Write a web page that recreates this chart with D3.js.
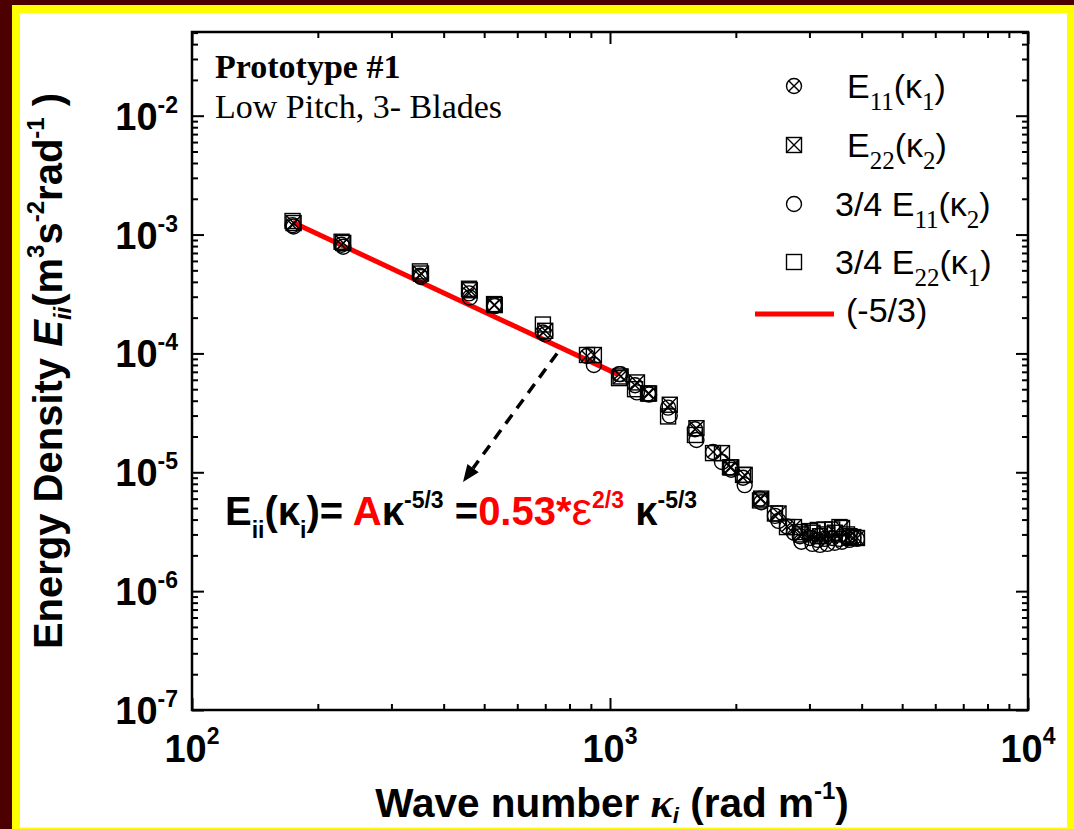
<!DOCTYPE html>
<html><head><meta charset="utf-8">
<script src="https://cdn.jsdelivr.net/npm/d3@7"></script>
<style>
html,body{margin:0;padding:0;background:#4d0000;}
svg{display:block;}
</style></head><body>
<svg id="chart" width="1074" height="829"></svg>
<script>
// ---------------- data ----------------
const k1 = [174, 228, 351, 460, 528, 691, 881, 1051, 1148, 1233, 1377, 1597, 1764, 1937, 2081, 2285, 2481, 2651, 2848, 3010, 3140, 3260, 3400, 3540, 3690, 3820];
const k2 = [175, 230, 353, 462, 530, 700, 915, 1060, 1160, 1240, 1390, 1610, 1853, 1950, 2100, 2300, 2530, 2755, 2870, 3050, 3180, 3310, 3450, 3590, 3740, 3898];
const E11k1 = [1.2e-3, 8.2e-4, 4.5e-4, 3.2e-4, 2.55e-4, 1.5e-4, 9.5e-5, 6.7e-5, 5.4e-5, 4.6e-5, 3.5e-5, 2.3e-5, 1.48e-5, 1.1e-5, 9.0e-6, 6.0e-6, 4.3e-6, 3.5e-6, 2.9e-6, 2.8e-6, 2.7e-6, 2.75e-6, 2.8e-6, 2.75e-6, 2.8e-6, 2.8e-6];
const E22k2 = [1.25e-3, 8.5e-4, 4.7e-4, 3.4e-4, 2.55e-4, 1.55e-4, 9.7e-5, 6.4e-5, 5.7e-5, 4.6e-5, 3.7e-5, 2.35e-5, 1.45e-5, 1.1e-5, 9.5e-6, 6.0e-6, 4.5e-6, 3.46e-6, 3.0e-6, 3.1e-6, 2.9e-6, 3.0e-6, 3.1e-6, 3.4e-6, 2.9e-6, 2.8e-6];
const E11k2q = [1.17e-3, 7.9e-4, 4.4e-4, 2.95e-4, 2.5e-4, 1.45e-4, 8.0e-5, 6.7e-5, 4.7e-5, 4.5e-5, 3.0e-5, 1.87e-5, 1.22e-5, 1.05e-5, 7.8e-6, 5.6e-6, 3.9e-6, 3.1e-6, 2.6e-6, 2.5e-6, 2.45e-6, 2.5e-6, 2.55e-6, 2.6e-6, 2.7e-6, 2.75e-6];
const E22k1q = [1.3e-3, 8.7e-4, 4.9e-4, 3.5e-4, 2.6e-4, 1.75e-4, 9.7e-5, 6.2e-5, 5.0e-5, 4.6e-5, 2.95e-5, 2.06e-5, 1.45e-5, 1.1e-5, 9.5e-6, 5.8e-6, 4.5e-6, 3.46e-6, 3.14e-6, 3.2e-6, 3.27e-6, 3.3e-6, 3.3e-6, 3.46e-6, 3.0e-6, 2.85e-6];
const fitK = [174, 1051];
const fitE = [1.27e-3, 6.6e-5];
const xTickValues = [1e2, 1e3, 1e4];
const xTickExps = ["2", "3", "4"];
const yTickValues = [1e-7, 1e-6, 1e-5, 1e-4, 1e-3, 1e-2];
const yTickExps = ["-7", "-6", "-5", "-4", "-3", "-2"];
const arrowFrom = [747, 1.0e-4];
const arrowTo = [445, 8.3e-6];

// ---------------- setup ----------------
const W = 1074, H = 829;
const svg = d3.select("#chart");
svg.append("rect").attr("x", 0).attr("y", 0).attr("width", W).attr("height", H).attr("fill", "#4d0000");
svg.append("rect").attr("x", 12).attr("y", 5).attr("width", W - 12).attr("height", H - 5).attr("fill", "#ffff00");
svg.append("rect").attr("x", 20).attr("y", 13).attr("width", 1047).attr("height", 814.5).attr("fill", "#ffffff");

const M = {l: 192, t: 32, r: 1028, b: 710};
const x = d3.scaleLog().domain([1e2, 1e4]).range([M.l, M.r]);
const y = d3.scaleLog().domain([1e-7, 0.0506]).range([M.b, M.t]);

const SANS = "'Liberation Sans', Arial, sans-serif";
const SERIF = "'Liberation Serif', 'Times New Roman', serif";

// minor tick positions
const xMinor = [];
[1e2, 1e3].forEach(d => { for (let m = 2; m <= 9; m++) xMinor.push(d * m); });
const yMinor = [];
[1e-7, 1e-6, 1e-5, 1e-4, 1e-3, 1e-2].forEach(d => { for (let m = 2; m <= 9; m++) if (d * m <= y.domain()[1]) yMinor.push(d * m); });

function axisG(axis, tx, ty) {
  const g = svg.append("g").attr("transform", `translate(${tx},${ty})`).call(axis);
  g.select(".domain").remove();
  g.selectAll(".tick line").attr("stroke", "#000").attr("stroke-width", 2);
  g.selectAll(".tick text").remove();
  return g;
}
axisG(d3.axisBottom(x).tickValues(xTickValues).tickSize(-12).tickFormat(""), 0, M.b);
axisG(d3.axisBottom(x).tickValues(xMinor).tickSize(-6).tickFormat(""), 0, M.b);
axisG(d3.axisTop(x).tickValues(xTickValues).tickSize(-12).tickFormat(""), 0, M.t);
axisG(d3.axisTop(x).tickValues(xMinor).tickSize(-6).tickFormat(""), 0, M.t);
axisG(d3.axisLeft(y).tickValues(yTickValues).tickSize(-12).tickFormat(""), M.l, 0);
axisG(d3.axisLeft(y).tickValues(yMinor).tickSize(-6).tickFormat(""), M.l, 0);
axisG(d3.axisRight(y).tickValues(yTickValues).tickSize(-12).tickFormat(""), M.r, 0);
axisG(d3.axisRight(y).tickValues(yMinor).tickSize(-6).tickFormat(""), M.r, 0);

svg.append("rect").attr("x", M.l).attr("y", M.t).attr("width", M.r - M.l).attr("height", M.b - M.t)
  .attr("fill", "none").attr("stroke", "#000").attr("stroke-width", 2.5);

// tick labels
xTickValues.forEach((v, i) => {
  const t = svg.append("text").attr("x", x(v)).attr("y", M.b + 52).attr("text-anchor", "middle")
    .attr("font-family", SANS).attr("font-weight", "bold").attr("font-size", 38);
  t.append("tspan").text("10");
  t.append("tspan").attr("font-size", 23).attr("dy", -18).text(xTickExps[i]);
});
yTickValues.forEach((v, i) => {
  const t = svg.append("text").attr("x", 178).attr("y", y(v) + 14).attr("text-anchor", "end")
    .attr("font-family", SANS).attr("font-weight", "bold").attr("font-size", 38);
  t.append("tspan").text("10");
  t.append("tspan").attr("font-size", 23).attr("dy", -17).text(yTickExps[i]);
});

// axis titles
const xt = svg.append("text").attr("x", (M.l + M.r) / 2 + 2).attr("y", 817).attr("text-anchor", "middle")
  .attr("font-family", SANS).attr("font-weight", "bold").attr("font-size", 40.5);
xt.append("tspan").text("Wave number ");
xt.append("tspan").attr("font-family", SERIF).attr("font-style", "italic").attr("font-size", 42).text("\u03BA");
xt.append("tspan").attr("font-style", "italic").attr("font-size", 22).attr("dy", 6).text("i");
xt.append("tspan").attr("dy", -6).text(" (rad m");
xt.append("tspan").attr("font-size", 24).attr("dy", -18).text("-1");
xt.append("tspan").attr("dy", 18).text(")");

const yt = svg.append("text").attr("transform", `translate(62,${(M.t + M.b) / 2}) rotate(-90)`).attr("text-anchor", "middle")
  .attr("font-family", SANS).attr("font-weight", "bold").attr("font-size", 40);
yt.append("tspan").text("Energy Density ");
yt.append("tspan").attr("font-style", "italic").text("E");
yt.append("tspan").attr("font-style", "italic").attr("font-size", 24).attr("dy", 9).text("ii");
yt.append("tspan").attr("dy", -9).text("(m");
yt.append("tspan").attr("font-size", 24).attr("dy", -18).text("3");
yt.append("tspan").attr("dy", 18).text("s");
yt.append("tspan").attr("font-size", 24).attr("dy", -18).text("-2");
yt.append("tspan").attr("dy", 18).text("rad");
yt.append("tspan").attr("font-size", 24).attr("dy", -18).text("-1");
yt.append("tspan").attr("dy", 18).text(" )");

// annotation text
svg.append("text").attr("x", 215).attr("y", 78).attr("font-family", SERIF).attr("font-weight", "bold")
  .attr("font-size", 34).text("Prototype #1");
svg.append("text").attr("x", 215).attr("y", 118).attr("font-family", SERIF)
  .attr("font-size", 34).text("Low Pitch, 3- Blades");

// fit line
const line = d3.line().x(d => x(d[0])).y(d => y(d[1]));
svg.append("path").datum(fitK.map((k, i) => [k, fitE[i]])).attr("d", line)
  .attr("fill", "none").attr("stroke", "#ff0000").attr("stroke-width", 5);

// markers
function marker(g, type) {
  const s = 7.5;
  g.attr("fill", "none").attr("stroke", "#000").attr("stroke-width", 1.4);
  if (type.circle) g.append("circle").attr("r", s);
  else g.append("rect").attr("x", -s).attr("y", -s).attr("width", 2 * s).attr("height", 2 * s);
  if (type.cross) {
    const d = type.circle ? s * 0.707 : s;
    g.append("path").attr("d", `M${-d},${-d}L${d},${d}M${-d},${d}L${d},${-d}`);
  }
}
const series = [
  {k: k1, e: E11k1, type: {circle: true, cross: true}},
  {k: k2, e: E22k2, type: {circle: false, cross: true}},
  {k: k2, e: E11k2q, type: {circle: true, cross: false}},
  {k: k1, e: E22k1q, type: {circle: false, cross: false}}
];
series.forEach(s => {
  const g = svg.append("g");
  s.k.forEach((k, i) => {
    const m = g.append("g").attr("transform", `translate(${x(k)},${y(s.e[i])})`);
    marker(m, s.type);
  });
});

// legend
const legRows = [86, 145, 204, 262];
const legSub = [["11", "1"], ["22", "2"], ["11", "2"], ["22", "1"]];
const legPre = ["", "", "3/4 ", "3/4 "];
const legX = [847, 847, 835, 835];
series.forEach((s, i) => {
  marker(svg.append("g").attr("transform", `translate(794,${legRows[i]})`), s.type);
  const t = svg.append("text").attr("x", legX[i]).attr("y", legRows[i] + 12)
    .attr("font-family", SANS).attr("font-size", 34);
  t.append("tspan").text(legPre[i] + "E");
  t.append("tspan").attr("font-family", SERIF).attr("font-size", 25).attr("dy", 12).text(legSub[i][0]);
  t.append("tspan").attr("dy", -12).text("(\u03BA");
  t.append("tspan").attr("font-family", SERIF).attr("font-size", 25).attr("dy", 12).text(legSub[i][1]);
  t.append("tspan").attr("dy", -12).text(")");
});
svg.append("line").attr("x1", 755).attr("x2", 834).attr("y1", 314).attr("y2", 314)
  .attr("stroke", "#ff0000").attr("stroke-width", 5);
svg.append("text").attr("x", 846).attr("y", 322).attr("font-family", SANS).attr("font-size", 34).text("(-5/3)");

// dashed arrow
const ax1 = x(arrowFrom[0]), ay1 = y(arrowFrom[1]), ax2 = x(arrowTo[0]), ay2 = y(arrowTo[1]);
const ang = Math.atan2(ay2 - ay1, ax2 - ax1);
const hl = 17, hw = 7;
const bx = ax2 - hl * Math.cos(ang), by = ay2 - hl * Math.sin(ang);
svg.append("line").attr("x1", ax1).attr("y1", ay1).attr("x2", bx).attr("y2", by)
  .attr("stroke", "#000").attr("stroke-width", 3.5).attr("stroke-dasharray", "11,8");
svg.append("path").attr("d",
  `M${ax2},${ay2}L${bx + hw * Math.sin(ang)},${by - hw * Math.cos(ang)}L${bx - hw * Math.sin(ang)},${by + hw * Math.cos(ang)}Z`)
  .attr("fill", "#000");

// formula
const f = svg.append("text").attr("x", 225).attr("y", 525).attr("font-family", SANS)
  .attr("font-weight", "bold").attr("font-size", 40).attr("fill", "#000");
f.append("tspan").text("E");
f.append("tspan").attr("font-size", 23).attr("dy", 13).text("ii");
f.append("tspan").attr("dy", -13).text("(\u03BA");
f.append("tspan").attr("font-size", 23).attr("dy", 13).text("i");
f.append("tspan").attr("dy", -13).text(")= ");
f.append("tspan").attr("fill", "#ff0000").text("A");
f.append("tspan").text("\u03BA");
f.append("tspan").attr("font-size", 23).attr("dy", -17).text("-5/3");
f.append("tspan").attr("dy", 17).text(" =");
f.append("tspan").attr("fill", "#ff0000").text("0.53*");
f.append("tspan").attr("fill", "#ff0000").attr("font-weight", "normal").attr("font-size", 46).text("\u03B5");
f.append("tspan").attr("fill", "#ff0000").attr("font-size", 23).attr("dy", -17).text("2/3");
f.append("tspan").attr("dy", 17).text(" \u03BA");
f.append("tspan").attr("font-size", 23).attr("dy", -17).text("-5/3");
</script>
</body></html>
